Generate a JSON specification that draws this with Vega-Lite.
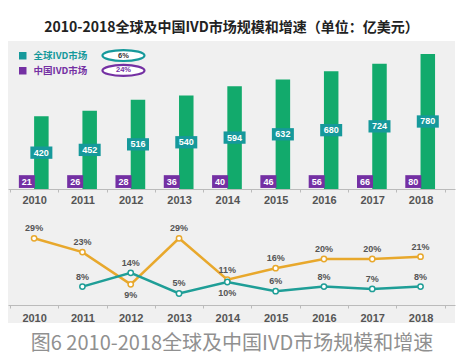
{
  "$schema": "https://vega.github.io/schema/vega-lite/v6.json",
  "width": 447,
  "height": 282,
  "autosize": {"type": "none"},
  "padding": {"left": 8, "top": 41, "right": 11, "bottom": 38},
  "background": "white",
  "title": {
    "text": "2010-2018全球及中国IVD市场规模和增速（单位：亿美元）",
    "font": "Noto Sans CJK SC",
    "fontSize": 14,
    "fontWeight": "bold",
    "color": "#222222",
    "anchor": "middle",
    "offset": 6
  },
  "config": {
    "view": {"fill": "#f0f0f0", "stroke": null},
    "font": "Liberation Sans"
  },
  "datasets": {
    "market": [
      {"year": "2010", "series": "全球IVD市场", "value": 420},
      {"year": "2011", "series": "全球IVD市场", "value": 452},
      {"year": "2012", "series": "全球IVD市场", "value": 516},
      {"year": "2013", "series": "全球IVD市场", "value": 540},
      {"year": "2014", "series": "全球IVD市场", "value": 594},
      {"year": "2015", "series": "全球IVD市场", "value": 632},
      {"year": "2016", "series": "全球IVD市场", "value": 680},
      {"year": "2017", "series": "全球IVD市场", "value": 724},
      {"year": "2018", "series": "全球IVD市场", "value": 780},
      {"year": "2010", "series": "中国IVD市场", "value": 21},
      {"year": "2011", "series": "中国IVD市场", "value": 26},
      {"year": "2012", "series": "中国IVD市场", "value": 28},
      {"year": "2013", "series": "中国IVD市场", "value": 36},
      {"year": "2014", "series": "中国IVD市场", "value": 40},
      {"year": "2015", "series": "中国IVD市场", "value": 46},
      {"year": "2016", "series": "中国IVD市场", "value": 56},
      {"year": "2017", "series": "中国IVD市场", "value": 66},
      {"year": "2018", "series": "中国IVD市场", "value": 80}
    ],
    "growth": [
      {"year": "2010", "series": "中国IVD市场", "rate": 29},
      {"year": "2011", "series": "中国IVD市场", "rate": 23},
      {"year": "2012", "series": "中国IVD市场", "rate": 9},
      {"year": "2013", "series": "中国IVD市场", "rate": 29},
      {"year": "2014", "series": "中国IVD市场", "rate": 11},
      {"year": "2015", "series": "中国IVD市场", "rate": 16},
      {"year": "2016", "series": "中国IVD市场", "rate": 20},
      {"year": "2017", "series": "中国IVD市场", "rate": 20},
      {"year": "2018", "series": "中国IVD市场", "rate": 21},
      {"year": "2011", "series": "全球IVD市场", "rate": 8},
      {"year": "2012", "series": "全球IVD市场", "rate": 14},
      {"year": "2013", "series": "全球IVD市场", "rate": 5},
      {"year": "2014", "series": "全球IVD市场", "rate": 10},
      {"year": "2015", "series": "全球IVD市场", "rate": 6},
      {"year": "2016", "series": "全球IVD市场", "rate": 8},
      {"year": "2017", "series": "全球IVD市场", "rate": 7},
      {"year": "2018", "series": "全球IVD市场", "rate": 8}
    ],
    "notes": [
      {"series": "全球IVD市场", "note": "6%"},
      {"series": "中国IVD市场", "note": "24%"}
    ]
  },
  "layer": [
    {
      "layer": [
        {
          "data": {"name": "market"},
          "transform": [{"filter": "datum.series == '全球IVD市场'"}],
          "mark": {"type": "bar", "color": "#12aa6c"},
          "encoding": {
            "x": {
              "field": "year", "type": "ordinal",
              "scale": {"paddingInner": 0, "paddingOuter": 0.127, "align": 0.16},
              "axis": {
                "orient": "bottom", "offset": -134, "title": null, "labelAngle": 0,
                "labelFont": "Liberation Sans", "labelFontWeight": "bold", "labelFontSize": 11,
                "labelColor": "#555555", "labelPadding": 2, "tickBand": "extent",
                "tickSize": 3, "tickColor": "#bbbbbb", "domainColor": "#bbbbbb"
              }
            },
            "xOffset": {"field": "series", "type": "nominal", "scale": {"domain": ["中国IVD市场", "全球IVD市场"], "paddingInner": 0, "paddingOuter": 0.665}},
            "y": {"field": "value", "type": "quantitative", "scale": {"domain": [-774, 855], "nice": false, "zero": false}, "axis": null}
          }
        },
        {
          "data": {"name": "market"},
          "transform": [
            {"filter": "datum.series == '全球IVD市场'"},
            {"calculate": "datum.value / 2", "as": "mid"}
          ],
          "encoding": {
            "x": {"field": "year", "type": "ordinal"},
            "xOffset": {"field": "series", "type": "nominal"},
            "y": {"field": "mid", "type": "quantitative"}
          },
          "layer": [
            {
              "mark": {"type": "point", "shape": "M -1 -0.56 H 1 V 0.56 H -1 Z", "size": 484, "filled": true, "opacity": 1},
              "encoding": {
                "color": {
                  "field": "series", "type": "nominal",
                  "scale": {"domain": ["全球IVD市场", "中国IVD市场"], "range": ["#16999b", "#7430a3"]},
                  "legend": {
                    "title": null, "orient": "top-left", "offset": 10, "padding": 0,
                    "symbolType": "square", "symbolSize": 56, "symbolOpacity": 1,
                    "labelFont": "Noto Sans CJK SC", "labelFontSize": 9.5, "labelFontWeight": "bold",
                    "labelOffset": 6, "rowPadding": 4,
                    "encode": {"labels": {"update": {"fill": {"signal": "datum.value == '全球IVD市场' ? '#16999b' : '#7430a3'"}}}}
                  }
                }
              }
            },
            {
              "mark": {"type": "text", "color": "white", "fontWeight": "bold", "fontSize": 9, "font": "Liberation Sans"},
              "encoding": {"text": {"field": "value", "type": "quantitative"}}
            }
          ]
        },
        {
          "data": {"name": "market"},
          "transform": [{"filter": "datum.series == '中国IVD市场'"}],
          "encoding": {
            "x": {"field": "year", "type": "ordinal"},
            "xOffset": {"field": "series", "type": "nominal"},
            "y": {"datum": 43, "type": "quantitative"}
          },
          "layer": [
            {
              "mark": {"type": "point", "shape": "M -1 -0.8 H 1 V 0.8 H -1 Z", "size": 256, "filled": true, "opacity": 1},
              "encoding": {"color": {"field": "series", "type": "nominal"}}
            },
            {
              "mark": {"type": "text", "color": "white", "fontWeight": "bold", "fontSize": 9, "font": "Liberation Sans"},
              "encoding": {"text": {"field": "value", "type": "quantitative"}}
            }
          ]
        },
        {
          "data": {"name": "notes"},
          "transform": [{"filter": "datum.series == '全球IVD市场'"}],
          "encoding": {
            "x": {"datum": "2012", "type": "ordinal"},
            "xOffset": {"datum": "中国IVD市场", "type": "nominal"},
            "y": {"datum": 771, "type": "quantitative"}
          },
          "layer": [
            {"mark": {"type": "point", "shape": "M -1 0 A 1 0.26 0 1 0 1 0 A 1 0.26 0 1 0 -1 0 Z", "size": 1764, "filled": false, "fill": "white", "stroke": "#16999b", "strokeWidth": 2.2, "opacity": 1}},
            {"mark": {"type": "text", "color": "#333333", "fontWeight": "bold", "fontSize": 7.5, "font": "Liberation Sans"}, "encoding": {"text": {"field": "note"}}}
          ]
        },
        {
          "data": {"name": "notes"},
          "transform": [{"filter": "datum.series == '中国IVD市场'"}],
          "encoding": {
            "x": {"datum": "2012", "type": "ordinal"},
            "xOffset": {"datum": "中国IVD市场", "type": "nominal"},
            "y": {"datum": 685, "type": "quantitative"}
          },
          "layer": [
            {"mark": {"type": "point", "shape": "M -1 0 A 1 0.26 0 1 0 1 0 A 1 0.26 0 1 0 -1 0 Z", "size": 1764, "filled": false, "fill": "white", "stroke": "#7430a3", "strokeWidth": 2.2, "opacity": 1}},
            {"mark": {"type": "text", "color": "#7430a3", "fontWeight": "bold", "fontSize": 7.5, "font": "Liberation Sans"}, "encoding": {"text": {"field": "note"}}}
          ]
        }
      ]
    },
    {
      "data": {"name": "growth"},
      "encoding": {
        "x": {
          "field": "year", "type": "ordinal",
          "scale": {"paddingInner": 0, "paddingOuter": 0.127, "align": 0.16},
          "axis": {
            "orient": "bottom", "offset": -18, "labelAngle": 0,
            "labelFont": "Liberation Sans", "labelFontWeight": "bold", "labelFontSize": 11,
            "labelColor": "#555555", "labelPadding": 4, "tickBand": "extent",
            "tickSize": 3, "tickColor": "#bbbbbb", "domainColor": "#bbbbbb",
            "title": "图6 2010-2018全球及中国IVD市场规模和增速",
            "titleFont": "Noto Sans CJK SC", "titleFontSize": 20, "titleFontWeight": "normal",
            "titleColor": "#909090", "titlePadding": 10, "titleLimit": 1000
          }
        },
        "y": {"field": "rate", "type": "quantitative", "scale": {"domain": [-7.83, 114.8], "nice": false, "zero": false}, "axis": null},
        "stroke": {"field": "series", "type": "nominal", "scale": {"domain": ["中国IVD市场", "全球IVD市场"], "range": ["#e8a82c", "#1f9e97"]}, "legend": null}
      },
      "layer": [
        {"mark": {"type": "line", "strokeWidth": 2.5}},
        {"mark": {"type": "point", "filled": false, "fill": "white", "size": 28, "strokeWidth": 1.5, "opacity": 1}},
        {
          "transform": [
            {"filter": "!((datum.series == '中国IVD市场' && datum.year == '2012') || (datum.series == '全球IVD市场' && datum.year == '2014'))"},
            {"calculate": "datum.rate + '%'", "as": "label"}
          ],
          "mark": {"type": "text", "dy": -10, "color": "#555555", "fontWeight": "bold", "fontSize": 9, "font": "Liberation Sans"},
          "encoding": {"text": {"field": "label"}, "stroke": {"value": null}}
        },
        {
          "transform": [
            {"filter": "(datum.series == '中国IVD市场' && datum.year == '2012') || (datum.series == '全球IVD市场' && datum.year == '2014')"},
            {"calculate": "datum.rate + '%'", "as": "label"}
          ],
          "mark": {"type": "text", "dy": 11, "color": "#555555", "fontWeight": "bold", "fontSize": 9, "font": "Liberation Sans"},
          "encoding": {"text": {"field": "label"}, "stroke": {"value": null}}
        }
      ]
    }
  ],
  "resolve": {"scale": {"y": "independent"}, "axis": {"x": "independent"}}
}
